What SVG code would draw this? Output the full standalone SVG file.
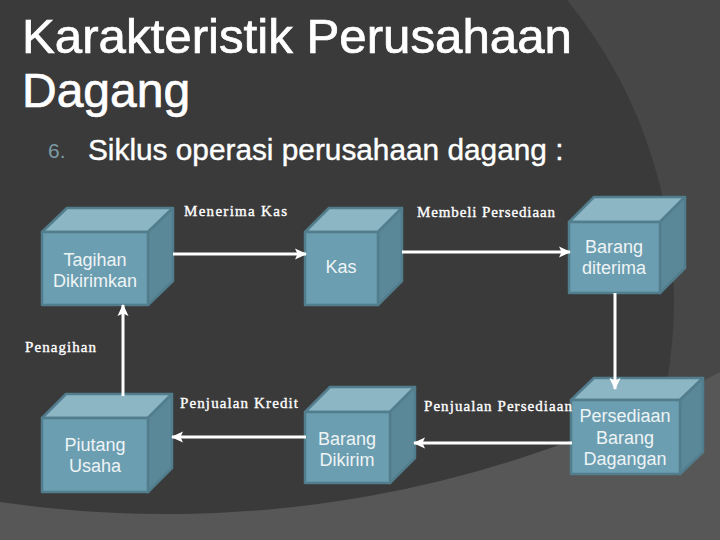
<svg xmlns="http://www.w3.org/2000/svg" width="720" height="540" viewBox="0 0 720 540">
<style>
.title{font-family:"Liberation Sans",Arial,sans-serif;fill:#ffffff;stroke:#ffffff;stroke-width:0.7}
.bt{font-family:"Liberation Sans",Arial,sans-serif;font-size:18px;fill:#eef4f6;text-anchor:middle}
.lbl{font-family:"Liberation Serif","Times New Roman",serif;font-size:15px;fill:#ffffff;stroke:#ffffff;stroke-width:0.35}
.front{fill:#6b9eb0;stroke:#527d8d;stroke-width:2.5;stroke-linejoin:round}
.top{fill:#8db6c5;stroke:#527d8d;stroke-width:2.5;stroke-linejoin:round}
.side{fill:#5b8898;stroke:#527d8d;stroke-width:2.5;stroke-linejoin:round}
.conn{stroke:#ffffff;stroke-width:3;fill:none}
</style>
<defs>
<marker id="ah" markerUnits="userSpaceOnUse" markerWidth="12" markerHeight="12" viewBox="0 0 12 12" refX="11" refY="6" orient="auto">
<path d="M0,0.5 L12,6 L0,11.5 L2.5,6 Z" fill="#ffffff"/>
</marker>
</defs>
<!-- background -->
<rect x="0" y="0" width="720" height="540" fill="#474747"/>
<circle cx="200" cy="300" r="474" fill="#3a3a3a"/>
<path d="M0,502 A1150,1150 0 0,0 720,372 L720,540 L0,540 Z" fill="#575757"/>

<!-- title -->
<text class="title" x="22" y="53" font-size="48" textLength="550" lengthAdjust="spacingAndGlyphs">Karakteristik Perusahaan</text>
<text class="title" x="22" y="107" font-size="48">Dagang</text>
<text x="48" y="158" font-family="Liberation Sans,Arial,sans-serif" font-size="21" fill="#7c9ba6">6.</text>
<text class="title" x="88" y="160" font-size="29.8" style="stroke-width:0.4">Siklus operasi perusahaan dagang :</text>

<!-- nodes -->
<g id="tagihan">
<polygon class="top" points="42,232 67,208 173,208 148,232"/>
<polygon class="side" points="148,232 173,208 173,281 148,305"/>
<rect class="front" x="42" y="232" width="106" height="73"/>
<text class="bt" x="95" y="266">Tagihan</text>
<text class="bt" x="95" y="287">Dikirimkan</text>
</g>

<g id="kas">
<polygon class="top" points="305,232 329,208 402,208 378,232"/>
<polygon class="side" points="378,232 402,208 402,281 378,305"/>
<rect class="front" x="305" y="232" width="73" height="73"/>
<text class="bt" x="341" y="273">Kas</text>
</g>

<g id="barang-diterima">
<polygon class="top" points="569,222 594,197 685,197 660,222"/>
<polygon class="side" points="660,222 685,197 685,268 660,293"/>
<rect class="front" x="569" y="222" width="91" height="71"/>
<text class="bt" x="614" y="253">Barang</text>
<text class="bt" x="614" y="274">diterima</text>
</g>

<g id="piutang">
<polygon class="top" points="42,418 66,394 172,394 148,418"/>
<polygon class="side" points="148,418 172,394 172,468 148,492"/>
<rect class="front" x="42" y="418" width="106" height="74"/>
<text class="bt" x="95" y="451">Piutang</text>
<text class="bt" x="95" y="472">Usaha</text>
</g>

<g id="barang-dikirim">
<polygon class="top" points="305,412 330,387 415,387 390,412"/>
<polygon class="side" points="390,412 415,387 415,458 390,483"/>
<rect class="front" x="305" y="412" width="85" height="71"/>
<text class="bt" x="347" y="445">Barang</text>
<text class="bt" x="347" y="466">Dikirim</text>
</g>

<g id="persediaan">
<polygon class="top" points="571,400 594,378 703,378 680,400"/>
<polygon class="side" points="680,400 703,378 703,452 680,474"/>
<rect class="front" x="571" y="400" width="109" height="74"/>
<text class="bt" x="625" y="422">Persediaan</text>
<text class="bt" x="625" y="444">Barang</text>
<text class="bt" x="625" y="465">Dagangan</text>
</g>

<!-- connectors -->
<g id="connectors">
<line class="conn" x1="173" y1="254" x2="306" y2="254" marker-end="url(#ah)"/>
<line class="conn" x1="402" y1="252" x2="570" y2="252" marker-end="url(#ah)"/>
<line class="conn" x1="615" y1="293" x2="615" y2="389" marker-end="url(#ah)"/>
<line class="conn" x1="572" y1="443" x2="414" y2="443" marker-end="url(#ah)"/>
<line class="conn" x1="306" y1="437" x2="172" y2="437" marker-end="url(#ah)"/>
<line class="conn" x1="123" y1="396" x2="123" y2="305" marker-end="url(#ah)"/>
<text class="lbl" x="184" y="216" textLength="103" lengthAdjust="spacing">Menerima Kas</text>
<text class="lbl" x="417" y="217" textLength="138" lengthAdjust="spacing">Membeli Persediaan</text>
<text class="lbl" x="25" y="352" textLength="71" lengthAdjust="spacing">Penagihan</text>
<text class="lbl" x="180" y="408" textLength="118" lengthAdjust="spacing">Penjualan Kredit</text>
<text class="lbl" x="424" y="411" textLength="148" lengthAdjust="spacing">Penjualan Persediaan</text>
</g>
</svg>
